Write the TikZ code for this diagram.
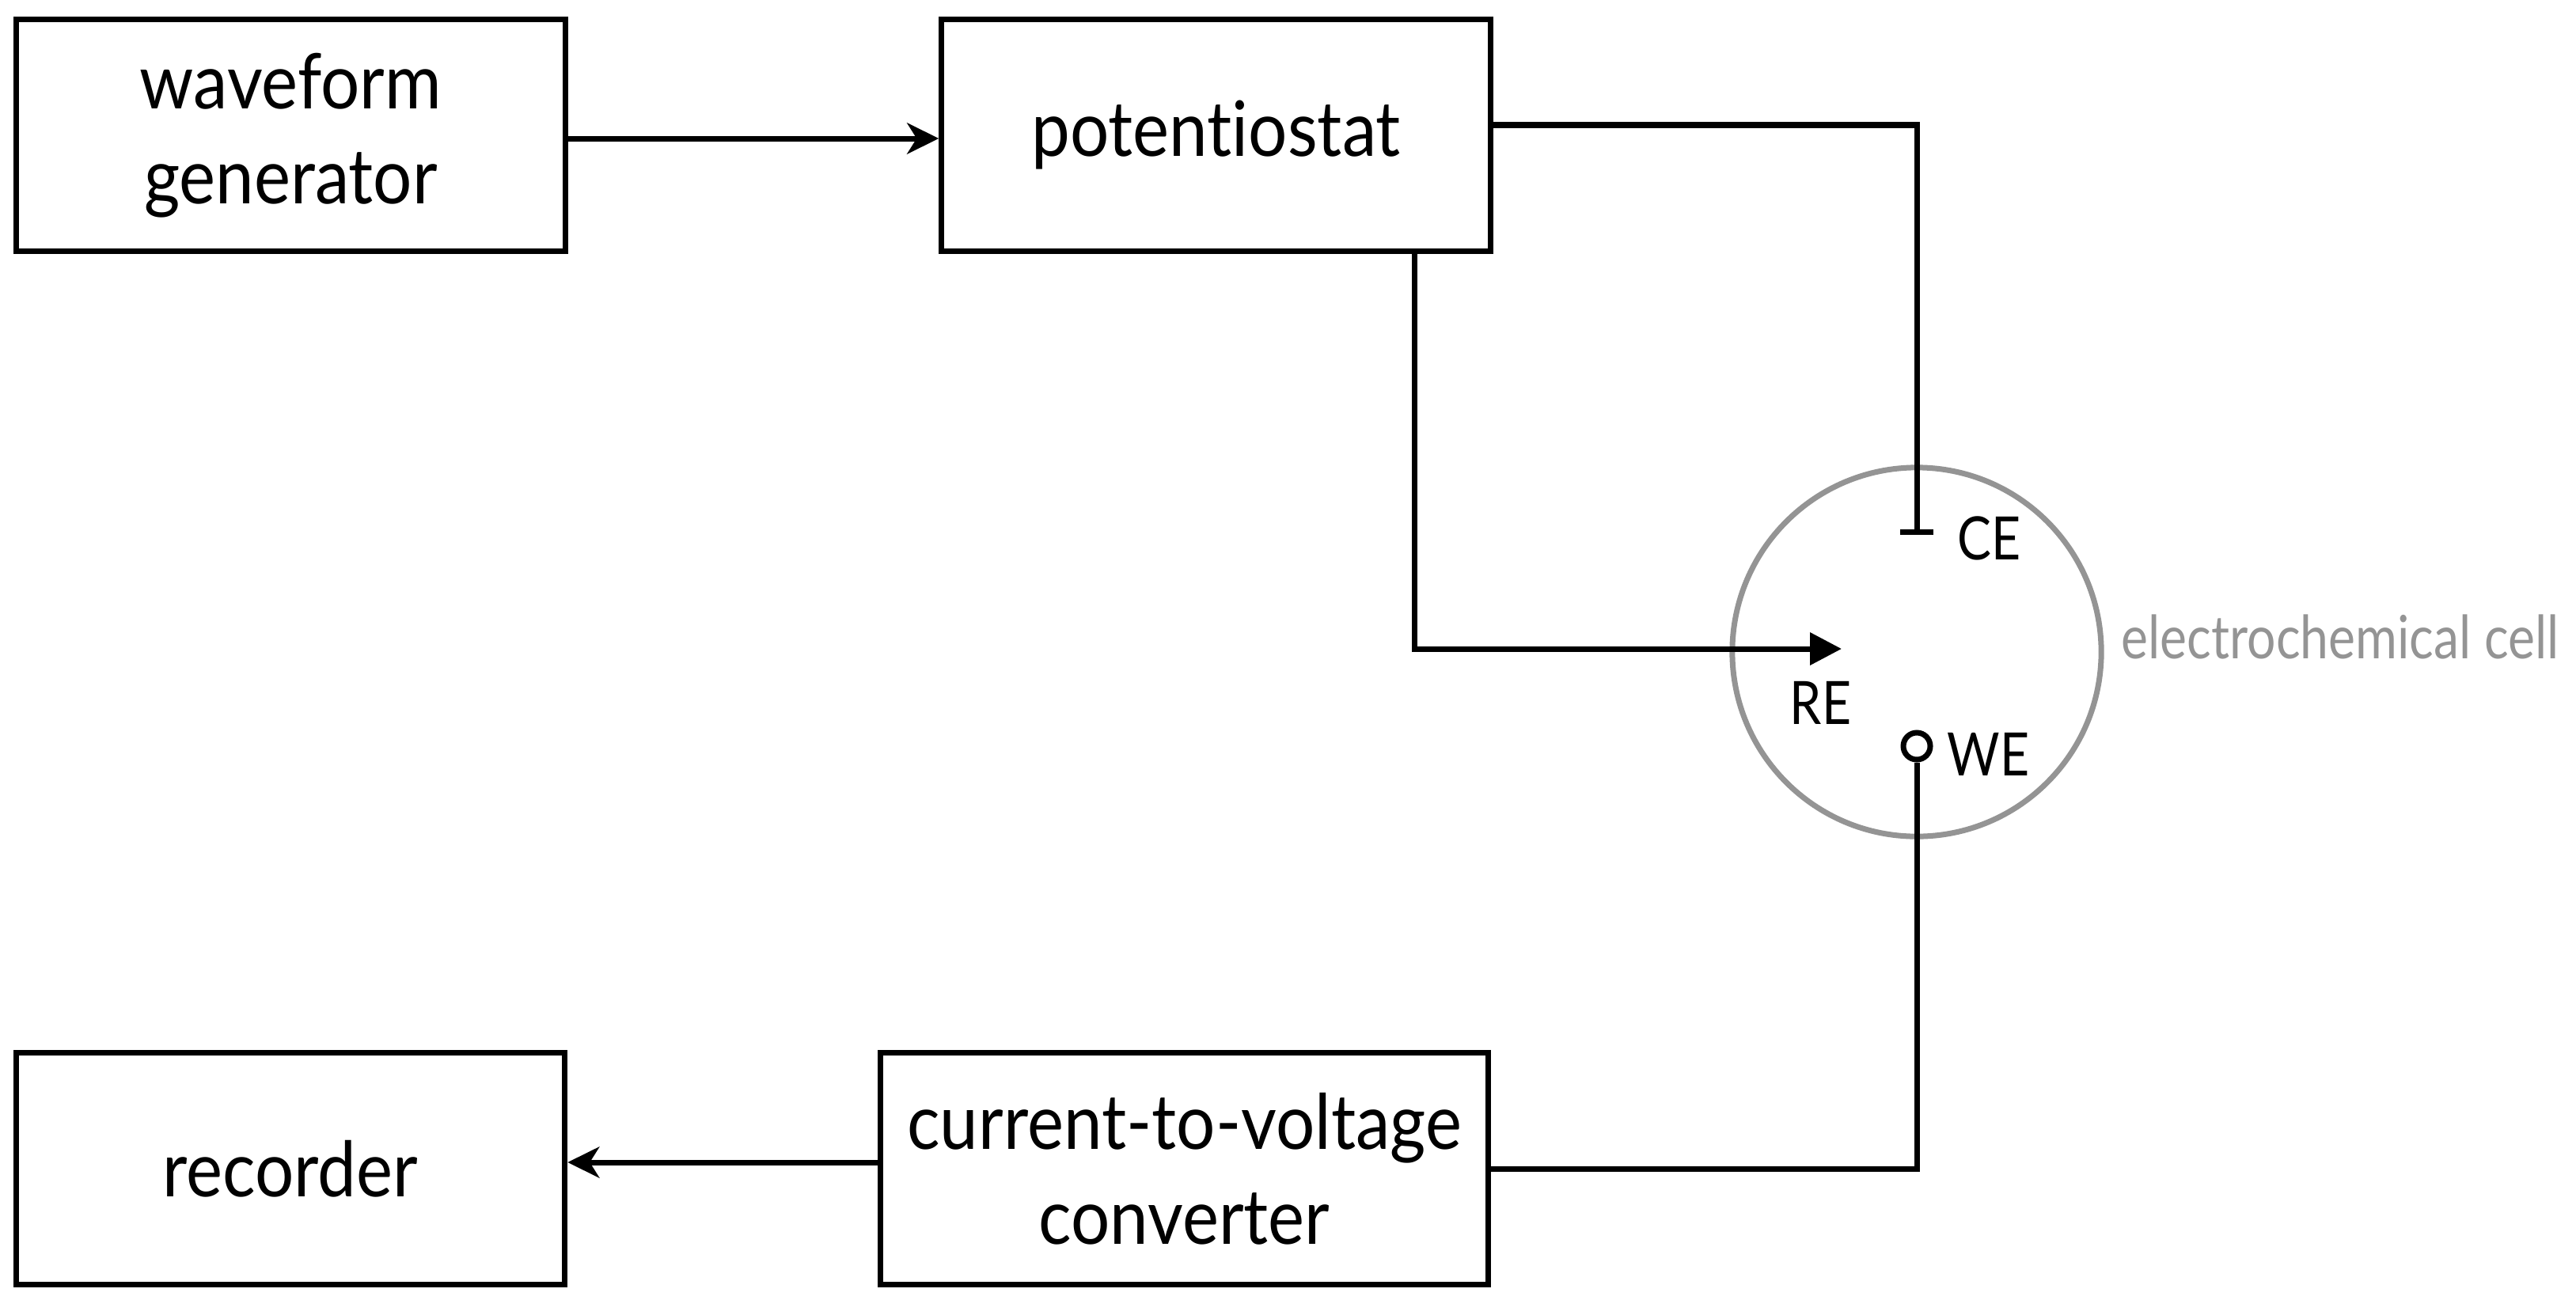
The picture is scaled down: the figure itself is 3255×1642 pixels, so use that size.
\documentclass[tikz,border=0pt]{standalone}
\usepackage{fontspec}
\setmainfont{Lato}[FakeStretch=0.9, Ligatures=CommonOff]
\newfontfamily\lblfam{Lato}[FakeStretch=0.85, Ligatures=CommonOff]
\usetikzlibrary{arrows.meta}
\definecolor{cellgray}{RGB}{148,148,148}
\newcommand\bxfont{\fontsize{27.5}{34}\selectfont}
\newcommand\lblfont{\lblfam\fontsize{21.5}{26}\selectfont}
\begin{document}
\begin{tikzpicture}[x=0.01cm,y=-0.01cm,
  box/.style={draw, line width=0.07cm, minimum width=6.93cm, minimum height=2.92cm, inner sep=0, align=center, font=\bxfont},
  wire/.style={line width=0.07cm},
  arr/.style={wire, -{Stealth[length=0.4cm, width=0.39cm, inset=0.12cm]}},
  lbl/.style={anchor=base west, inner sep=0, font=\lblfont}]
\useasboundingbox (0,0) rectangle (3255,1642);
% cell
\node[circle, draw=cellgray, line width=0.07cm, minimum size=4.66cm, inner sep=0] (cell) at (2422,824) {};
\node[lbl, text=cellgray] (celllbl) at (2680,832) {electrochemical cell};
% boxes
\node[box] (wg) at (367.5,171) {waveform\\generator};
\node[box] (pot) at (1536.5,171) {potentiostat};
\node[box] (rec) at (367,1477) {recorder};
\node[box, minimum width=7.67cm] (ctv) at (1496.5,1477) {current-to-voltage\\converter};
% electrodes
\coordinate (ce) at (2422,676);
\coordinate (re) at (2327,820);
\node[circle, draw, line width=0.07cm, minimum size=0.34cm, inner sep=0, fill=white] (we) at (2422,943) {};
\node[lbl] (celbl) at (2473,707) {CE};
\node[lbl] (relbl) at (2261,915) {RE};
\node[lbl] (welbl) at (2460,980) {WE};
% connectors
\draw[arr] ([yshift=-0.04cm]wg.east) -- ([yshift=-0.04cm]pot.west);
\draw[wire, -{Bar[width=0.42cm]}] ([yshift=0.13cm]pot.east) -| (ce);
\draw[wire, -{Triangle[length=0.4cm, width=0.4cm]}] ([xshift=2.505cm]pot.south) |- (re);
\draw[wire] (we.south) |- (ctv.east);
\draw[arr] ([yshift=0.08cm]ctv.west) -- ([yshift=0.08cm]rec.east);
\end{tikzpicture}
\end{document}
